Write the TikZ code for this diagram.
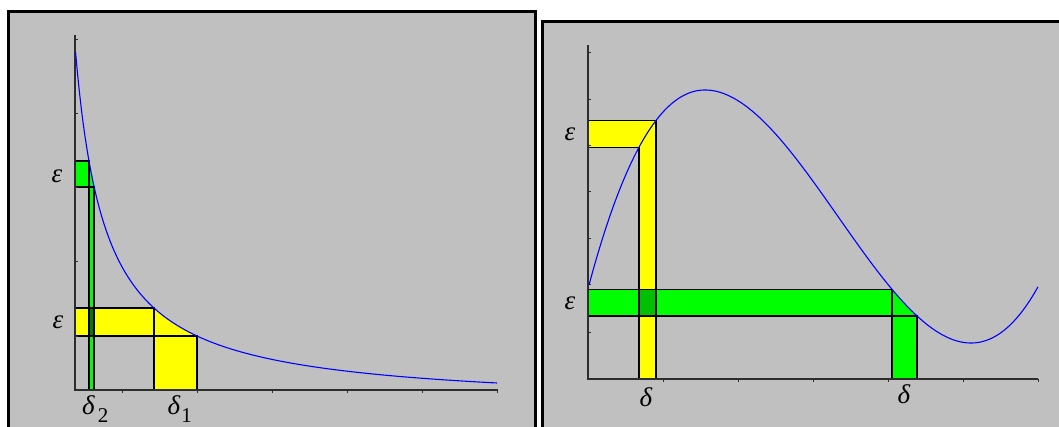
\documentclass[tikz,border=0pt]{standalone}
\usepackage{fontspec}
\setmainfont{Liberation Serif}
\definecolor{panelgray}{RGB}{192,192,192}
\definecolor{ylw}{RGB}{255,255,0}
\definecolor{grn}{RGB}{0,255,0}
\definecolor{dkgrn}{RGB}{0,128,0}
\definecolor{mdgrn}{RGB}{0,192,0}
\definecolor{crv}{RGB}{0,0,255}
\definecolor{axc}{RGB}{45,45,45}
\tikzset{
  panel/.style={fill=panelgray, draw=black, line width=3.5pt},
  axisline/.style={draw=axc, line width=1.1pt},
  tickline/.style={draw=axc, line width=1pt},
  gridline/.style={draw=black, line width=1.5pt},
  curveline/.style={draw=crv, line width=1.1pt},
  lbl/.style={inner sep=0pt, font=\fontsize{27}{28}\selectfont\itshape},
  sublbl/.style={inner sep=0pt, font=\fontsize{21}{22}\selectfont},
}
\begin{document}
\begin{tikzpicture}[x=1pt,y=-1pt,
  declare function={
    yL(\x)=390-10735/(\x-45.3)+16.76;
    yR(\x)=216.5-80.66*(((\x-838)/100)*((\x-838)/100)*((\x-838)/100)/3-1.7689*((\x-838)/100))+8.7*(max(0,(705-\x)/116))^2;
  }]
\useasboundingbox (0,0) rectangle (1059,427);
\clip (0,0) rectangle (1059,427);
\fill[white] (0,0) rectangle (1059,427);

% panels
\draw[panel] (8.5,11.5) rectangle (535.5,470);
\draw[panel] (542.3,21.7) rectangle (1090,470);

% ---------- left plot ----------
\coordinate (LO) at (75,390);
\coordinate (LYa) at (154,{yL(154)});
\coordinate (LYb) at (197,{yL(197)});
\coordinate (LGa) at (89,{yL(89)});
\coordinate (LGb) at (94.2,{yL(94.2)});

\fill[ylw] (75,{yL(154)}) -- (LYa) -- plot[domain=154:197,samples=25] (\x,{yL(\x)}) -- (197,390) -- (154,390) -- (154,{yL(197)}) -- (75,{yL(197)}) -- cycle;
\fill[grn] (75,{yL(89)}) -- (LGa) -- plot[domain=89:94.2,samples=10] (\x,{yL(\x)}) -- (94.2,390) -- (89,390) -- (89,{yL(94.2)}) -- (75,{yL(94.2)}) -- cycle;
\fill[dkgrn] (89,{yL(154)}) rectangle (94.2,{yL(197)});

\draw[gridline] (75,{yL(154)}) -- (LYa) -- (154,390);
\draw[gridline] (75,{yL(197)}) -- (LYb) -- (197,390);
\draw[gridline] (75,{yL(89)}) -- (LGa) -- (89,390);
\draw[gridline] (75,{yL(94.2)}) -- (LGb) -- (94.2,390);

\draw[axisline] (75,35) -- (LO) -- (498,390);
\foreach \t in {40,114,188,262,336} \draw[tickline] (75,\t) -- (77.5,\t);
\foreach \t in {122,197,272,347,422,497} \draw[tickline] (\t,390) -- (\t,392.5);

\draw[curveline] plot[domain=75.6:497,samples=220] (\x,{yL(\x)});

\node[lbl] (eL1) at (57,176) {ε};
\node[lbl] (eL2) at (58,322) {ε};
\node[lbl] (dL2) at (88.5,405) {δ};
\node[sublbl] (dL2s) at (103,416) {2};
\node[lbl] (dL1) at (174,405) {δ};
\node[sublbl] (dL1s) at (186.5,416) {1};

% ---------- right plot ----------
\coordinate (RO) at (588,379);
\coordinate (RYa) at (639,{yR(639)});
\coordinate (RYb) at (656,{yR(656)});
\coordinate (RGa) at (892,{yR(892)});
\coordinate (RGb) at (917,{yR(917)});

\fill[ylw] (588,{yR(656)}) -- (RYb) -- (656,379) -- (639,379) -- (RYa) -- (588,{yR(639)}) -- cycle;
\fill[grn] (588,{yR(892)}) -- (RGa) -- plot[domain=892:917,samples=15] (\x,{yR(\x)}) -- (917,379) -- (892,379) -- (892,{yR(917)}) -- (588,{yR(917)}) -- cycle;
\fill[mdgrn] (639,{yR(892)}) rectangle (656,{yR(917)});

\draw[gridline] (588,{yR(656)}) -- (RYb) -- (656,379);
\draw[gridline] (588,{yR(639)}) -- (RYa) -- (639,379);
\draw[gridline] (588,{yR(892)}) -- (RGa) -- (892,379);
\draw[gridline] (588,{yR(917)}) -- (RGb) -- (917,379);

\draw[axisline] (588,45) -- (RO) -- (1038,379);
\foreach \t in {53,100,146,192,239,285,332} \draw[tickline] (588,\t) -- (590.5,\t);
\foreach \t in {663,738,813,888,963,1038} \draw[tickline] (\t,379) -- (\t,381.5);

\draw[curveline] plot[domain=589:1038,samples=220] (\x,{yR(\x)});

\node[lbl] (eR1) at (570,134) {ε};
\node[lbl] (eR2) at (570,303) {ε};
\node[lbl] (dR1) at (646,397) {δ};
\node[lbl] (dR2) at (904,394) {δ};
\end{tikzpicture}
\end{document}
